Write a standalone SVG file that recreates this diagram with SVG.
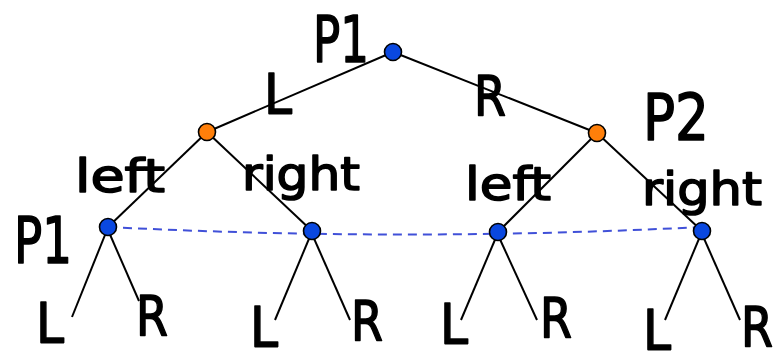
<svg xmlns="http://www.w3.org/2000/svg" width="775" height="354" viewBox="0 0 775 354">
  <style>
    .edge { stroke: #000; stroke-width: 2; fill: none; }
    .info { stroke: #4050d8; stroke-width: 2; stroke-dasharray: 9 6; fill: none; }
    .p1 { fill: #0a48e0; stroke: #000; stroke-width: 1.6; }
    .p2 { fill: #ff7f0a; stroke: #000; stroke-width: 1.6; }
    text { font-family: "DejaVu Sans", "Liberation Sans", sans-serif; fill: #000; stroke: #000; stroke-width: 1.6; stroke-linejoin: round; }
    .big { font-size: 64px; }
    .mv { font-size: 55px; }
    .act { font-size: 46px; }
  </style>

  <!-- game tree edges and information set -->
  <g id="connectors">
    <line class="edge" x1="393" y1="52" x2="207" y2="132"/>
    <line class="edge" x1="393" y1="52" x2="597" y2="133"/>
    <line class="edge" x1="207" y1="132" x2="108" y2="227"/>
    <line class="edge" x1="207" y1="132" x2="312" y2="231"/>
    <line class="edge" x1="597" y1="133" x2="498" y2="232"/>
    <line class="edge" x1="597" y1="133" x2="702" y2="231"/>
    <line class="edge" x1="107" y1="230" x2="72" y2="317"/>
    <line class="edge" x1="108" y1="230" x2="139" y2="301"/>
    <line class="edge" x1="311" y1="234" x2="275" y2="320"/>
    <line class="edge" x1="312" y1="234" x2="350" y2="320"/>
    <line class="edge" x1="497" y1="235" x2="461" y2="320"/>
    <line class="edge" x1="498" y1="235" x2="537" y2="320"/>
    <line class="edge" x1="701" y1="234" x2="665" y2="320"/>
    <line class="edge" x1="702" y1="234" x2="740" y2="320"/>
    <path class="info" d="M108,227 Q405,242 702,227"/>
  </g>

  <!-- decision nodes -->
  <g id="root"><circle class="p1" cx="393" cy="52" r="8.5"/></g>
  <g id="p2-left"><circle class="p2" cx="207" cy="132" r="8.5"/></g>
  <g id="p2-right"><circle class="p2" cx="597" cy="133" r="8.5"/></g>
  <g id="p1-a"><circle class="p1" cx="108" cy="227" r="8.5"/></g>
  <g id="p1-b"><circle class="p1" cx="312" cy="231" r="8.5"/></g>
  <g id="p1-c"><circle class="p1" cx="498" cy="232" r="8.5"/></g>
  <g id="p1-d"><circle class="p1" cx="702" cy="231" r="8.5"/></g>

  <!-- player labels -->
  <g id="labels">
    <text class="big" x="313" y="62" textLength="56" lengthAdjust="spacingAndGlyphs">P1</text>
    <text class="big" x="14" y="263" textLength="58" lengthAdjust="spacingAndGlyphs">P1</text>
    <text class="big" x="643" y="140" textLength="66" lengthAdjust="spacingAndGlyphs">P2</text>

    <!-- first-move labels -->
    <text class="mv" x="264" y="113" textLength="28" lengthAdjust="spacingAndGlyphs">L</text>
    <text class="mv" x="474" y="115" textLength="32" lengthAdjust="spacingAndGlyphs">R</text>

    <!-- second-move labels -->
    <text class="act" x="75" y="192" textLength="90" lengthAdjust="spacingAndGlyphs">left</text>
    <text class="act" x="242" y="190" textLength="118" lengthAdjust="spacingAndGlyphs">right</text>
    <text class="act" x="465" y="200" textLength="86" lengthAdjust="spacingAndGlyphs">left</text>
    <text class="act" x="642" y="205" textLength="120" lengthAdjust="spacingAndGlyphs">right</text>

    <!-- final-move labels -->
    <text class="mv" x="36" y="342" textLength="28" lengthAdjust="spacingAndGlyphs">L</text>
    <text class="mv" x="136" y="335" textLength="32" lengthAdjust="spacingAndGlyphs">R</text>
    <text class="mv" x="250" y="346" textLength="28" lengthAdjust="spacingAndGlyphs">L</text>
    <text class="mv" x="351" y="340" textLength="32" lengthAdjust="spacingAndGlyphs">R</text>
    <text class="mv" x="440" y="343" textLength="28" lengthAdjust="spacingAndGlyphs">L</text>
    <text class="mv" x="540" y="337" textLength="32" lengthAdjust="spacingAndGlyphs">R</text>
    <text class="mv" x="643" y="349" textLength="28" lengthAdjust="spacingAndGlyphs">L</text>
    <text class="mv" x="741" y="346" textLength="32" lengthAdjust="spacingAndGlyphs">R</text>
  </g>
</svg>
